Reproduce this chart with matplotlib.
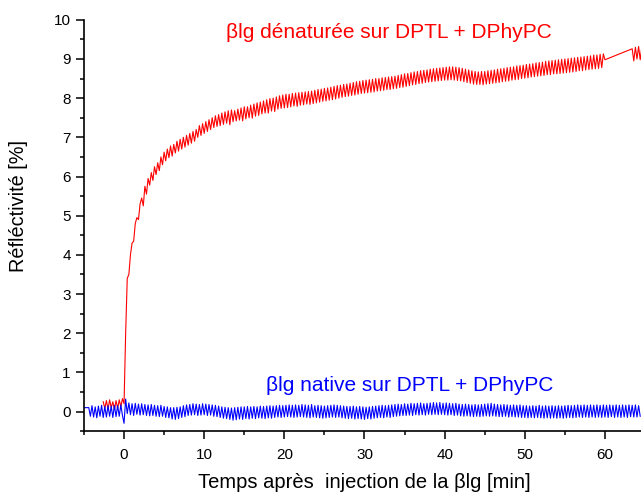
import numpy as np
import matplotlib
matplotlib.use("Agg")
import matplotlib.pyplot as plt
from matplotlib.ticker import MultipleLocator

plt.rcParams['font.family'] = ['Liberation Sans', 'DejaVu Sans']

# -------------------------- DATA ----------------------------------------------------
STEP = 0.2  # min, sampling grid of the instrument

# denatured blg: starts at -2.6 min, one value every 0.2 min up to 60 min
red_t0 = -2.6
red_vals = [
    0.25, 0.08, 0.28, 0.06, 0.30, 0.10, 0.25, 0.05, 0.28, 0.08, 0.30, 0.12, 0.33,
    0.20,
    2.0, 3.4, 3.5, 4.0, 4.3,
    4.35, 4.8, 4.95, 4.9, 5.3,
    5.45, 5.25, 5.75, 5.55, 5.95,
    5.78, 6.1, 5.9, 6.25, 6.05,
    6.35, 6.15, 6.5, 6.3, 6.62,
    6.4, 6.7, 6.48, 6.78, 6.52,
    6.82, 6.6, 6.9, 6.65, 6.95,
    6.7, 7.0, 6.75, 7.05, 6.8,
    7.1, 6.85, 7.15, 6.9, 7.2,
    7.0, 7.3, 7.05, 7.35, 7.1,
    7.4, 7.15, 7.45, 7.2, 7.5,
    7.25, 7.55, 7.28, 7.58, 7.3,
    7.62, 7.33, 7.65, 7.36, 7.68,
    7.32, 7.7, 7.4, 7.68, 7.42,
    7.72, 7.44, 7.75, 7.42, 7.78,
    7.47, 7.78, 7.5, 7.82, 7.49,
    7.85, 7.54, 7.88, 7.56, 7.9,
    7.6, 7.93, 7.62, 7.96, 7.62,
    7.99, 7.67, 8.0, 7.66, 8.03,
    7.72, 8.06, 7.74, 8.08, 7.75,
    8.1, 7.76, 8.1, 7.78, 8.12,
    7.8, 8.13, 7.79, 8.14, 7.82,
    8.15, 7.83, 8.16, 7.85, 8.17,
    7.84, 8.18, 7.86, 8.2, 7.88,
    8.22, 7.9, 8.23, 7.92, 8.25,
    7.93, 8.26, 7.95, 8.28, 7.96,
    8.3, 7.98, 8.32, 8.0, 8.33,
    8.02, 8.35, 8.04, 8.36, 8.05,
    8.38, 8.07, 8.4, 8.08, 8.42,
    8.1, 8.43, 8.12, 8.45, 8.13,
    8.46, 8.14, 8.47, 8.15, 8.48,
    8.16, 8.5, 8.18, 8.5, 8.19,
    8.52, 8.2, 8.53, 8.22, 8.54,
    8.22, 8.55, 8.24, 8.56, 8.25,
    8.58, 8.27, 8.6, 8.28, 8.62,
    8.3, 8.63, 8.32, 8.65, 8.34,
    8.67, 8.35, 8.68, 8.37, 8.7,
    8.38, 8.71, 8.4, 8.72, 8.41,
    8.74, 8.42, 8.75, 8.43, 8.76,
    8.44, 8.77, 8.45, 8.78, 8.46,
    8.79, 8.46, 8.8, 8.47, 8.8,
    8.46, 8.79, 8.45, 8.78, 8.44,
    8.76, 8.42, 8.74, 8.4, 8.72,
    8.38, 8.7, 8.36, 8.68, 8.35,
    8.67, 8.35, 8.68, 8.34, 8.68,
    8.36, 8.7, 8.37, 8.71, 8.38,
    8.72, 8.39, 8.74, 8.4, 8.75,
    8.42, 8.76, 8.43, 8.78, 8.44,
    8.79, 8.46, 8.8, 8.47, 8.82,
    8.48, 8.83, 8.5, 8.84, 8.51,
    8.86, 8.52, 8.87, 8.54, 8.88,
    8.55, 8.9, 8.56, 8.91, 8.57,
    8.92, 8.58, 8.94, 8.6, 8.95,
    8.6, 8.96, 8.62, 8.97, 8.62,
    8.98, 8.63, 8.99, 8.64, 9.0,
    8.65, 9.01, 8.66, 9.02, 8.67,
    9.03, 8.68, 9.04, 8.7, 9.05,
    8.7, 9.06, 8.72, 9.07, 8.73,
    9.08, 8.74, 9.1, 8.75, 9.1,
    8.76, 9.12, 8.78, 9.13, 8.98,
]
# after the gap in the recording
red_tail_t = [63.4, 63.6, 63.8, 64.0, 64.2, 64.4, 64.6]
red_tail_vals = [9.26, 8.95, 9.3, 9.0, 9.32, 8.98, 9.3]

# native blg: starts at -5 min, one value every 0.2 min
blue_t0 = -5.0
blue_vals = [
    0.1, 0.1, 0.1, 0.1, -0.12,
    0.15, -0.14, 0.12, -0.16, 0.14,
    -0.12, 0.16, -0.15, 0.13, -0.14,
    0.15, -0.12, 0.14, -0.15, 0.16,
    -0.13, 0.15, -0.12, 0.17, -0.1,
    -0.3, 0.32, -0.05, 0.22, -0.08,
    0.2, -0.1, 0.21, -0.07, 0.19,
    -0.09, 0.2, -0.08, 0.18, -0.1,
    0.17, -0.11, 0.18, -0.1, 0.16,
    -0.12, 0.15, -0.13, 0.16, -0.12,
    0.13, -0.15, 0.12, -0.16, 0.1,
    -0.19, 0.1, -0.2, 0.11, -0.18,
    0.12, -0.15, 0.15, -0.13, 0.17,
    -0.1, 0.18, -0.09, 0.2, -0.08,
    0.19, -0.1, 0.18, -0.09, 0.2,
    -0.08, 0.19, -0.1, 0.18, -0.09,
    0.17, -0.12, 0.16, -0.13, 0.14,
    -0.15, 0.12, -0.17, 0.11, -0.18,
    0.1, -0.2, 0.09, -0.22, 0.1,
    -0.21, 0.11, -0.19, 0.12, -0.2,
    0.12, -0.18, 0.13, -0.19, 0.12,
    -0.17, 0.13, -0.18, 0.12, -0.16,
    0.14, -0.17, 0.13, -0.18, 0.14,
    -0.16, 0.15, -0.17, 0.14, -0.15,
    0.15, -0.14, 0.16, -0.15, 0.15,
    -0.14, 0.16, -0.13, 0.17, -0.14,
    0.16, -0.15, 0.17, -0.14, 0.16,
    -0.13, 0.18, -0.14, 0.17, -0.15,
    0.16, -0.16, 0.18, -0.14, 0.15,
    -0.15, 0.16, -0.16, 0.15, -0.17,
    0.14, -0.16, 0.15, -0.15, 0.16,
    -0.14, 0.17, -0.15, 0.16, -0.14,
    0.15, -0.16, 0.14, -0.17, 0.13,
    -0.18, 0.13, -0.17, 0.14, -0.19,
    0.12, -0.18, 0.13, -0.19, 0.12,
    -0.2, 0.11, -0.18, 0.12, -0.19,
    0.13, -0.17, 0.14, -0.16, 0.15,
    -0.15, 0.16, -0.16, 0.15, -0.14,
    0.16, -0.15, 0.17, -0.13, 0.18,
    -0.12, 0.19, -0.11, 0.18, -0.1,
    0.2, -0.1, 0.19, -0.09, 0.21,
    -0.1, 0.2, -0.08, 0.21, -0.09,
    0.22, -0.08, 0.2, -0.09, 0.21,
    -0.07, 0.22, -0.08, 0.23, -0.07,
    0.22, -0.08, 0.23, -0.07, 0.21,
    -0.08, 0.22, -0.09, 0.21, -0.08,
    0.2, -0.1, 0.21, -0.09, 0.19,
    -0.11, 0.18, -0.12, 0.19, -0.11,
    0.18, -0.12, 0.17, -0.13, 0.18,
    -0.12, 0.17, -0.13, 0.18, -0.12,
    0.19, -0.11, 0.2, -0.12, 0.21,
    -0.11, 0.19, -0.12, 0.18, -0.13,
    0.17, -0.13, 0.18, -0.12, 0.17,
    -0.14, 0.16, -0.13, 0.17, -0.14,
    0.16, -0.14, 0.17, -0.15, 0.15,
    -0.15, 0.15, -0.16, 0.14, -0.15,
    0.15, -0.16, 0.14, -0.15, 0.16,
    -0.16, 0.14, -0.17, 0.15, -0.16,
    0.14, -0.17, 0.15, -0.16, 0.14,
    -0.17, 0.15, -0.16, 0.14, -0.17,
    0.15, -0.16, 0.16, -0.15, 0.15,
    -0.16, 0.16, -0.15, 0.17, -0.14,
    0.16, -0.15, 0.17, -0.14, 0.16,
    -0.15, 0.17, -0.14, 0.16, -0.15,
    0.17, -0.14, 0.16, -0.15, 0.17,
    -0.14, 0.16, -0.15, 0.17, -0.13,
    0.16, -0.15, 0.17, -0.14, 0.16,
    -0.15, 0.17, -0.14, 0.16, -0.15,
    0.17, -0.13, 0.16, -0.14, 0.17,
    -0.14, 0.15, -0.12,
]

red_label = "\u03b2lg dénaturée sur DPTL + DPhyPC"
blue_label = "\u03b2lg native sur DPTL + DPhyPC"
x_label = "Temps après  injection de la \u03b2lg [min]"
y_label = "Réfléctivité [%]"

# -------------------------- FIGURE ----------------------------
fig = plt.figure(figsize=(6.41, 4.95), dpi=100)
ax = fig.add_axes([0.131, 0.129, 0.869, 0.831])

red_t = red_t0 + STEP * np.arange(len(red_vals))
blue_t = blue_t0 + STEP * np.arange(len(blue_vals))

ax.plot(np.concatenate([red_t, red_tail_t]), np.concatenate([red_vals, red_tail_vals]),
        color="#ff0000", lw=0.8)
ax.plot(blue_t, blue_vals, color="#0000ff", lw=0.8)

ax.text(33.1, 9.67, red_label, color="#ff0000", fontsize=15, ha="center", va="center")
ax.text(35.7, 0.66, blue_label, color="#0000ff", fontsize=15, ha="center", va="center")

ax.set_xlim(-5, 64.5)
ax.set_ylim(-0.5, 10)
ax.xaxis.set_major_locator(MultipleLocator(10))
ax.xaxis.set_minor_locator(MultipleLocator(5))
ax.yaxis.set_major_locator(MultipleLocator(1))
ax.yaxis.set_minor_locator(MultipleLocator(0.5))
ax.tick_params(which="major", direction="out", length=6, width=1.1, labelsize=11)
ax.tick_params(axis="x", which="major", pad=6)
ax.tick_params(which="minor", direction="out", length=3, width=1.1)
for side in ("left", "bottom"):
    ax.spines[side].set_linewidth(1.2)

ax.spines["top"].set_visible(False)
ax.spines["right"].set_visible(False)

ax.set_xlabel(x_label, fontsize=14.5, va="center")
ax.set_ylabel(y_label, fontsize=14.3, va="center")
ax.xaxis.set_label_coords(0.504, -0.124)
ax.yaxis.set_label_coords(-0.118, 0.547)

fig.savefig("out.png", dpi=100)
